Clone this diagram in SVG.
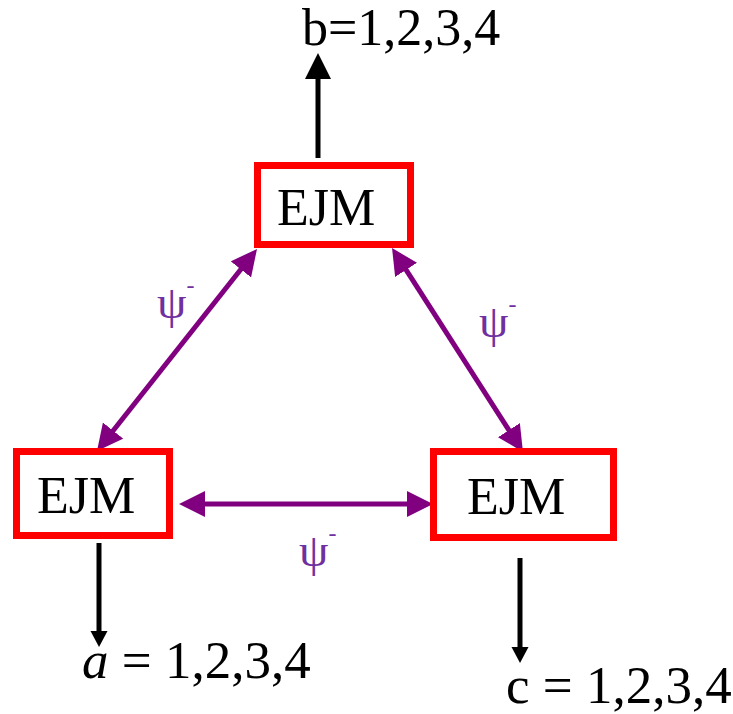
<svg xmlns="http://www.w3.org/2000/svg" width="733" height="714" viewBox="0 0 733 714">
  <style>
    .box { fill: #ffffff; stroke: #ff0000; stroke-width: 7; }
    .lbl { fill: #000000; font-family: "Liberation Serif", "Times New Roman", serif; }
    .psi { fill: #7030a0; font-size: 47px; font-family: "Liberation Serif", "Times New Roman", serif; }
    .ent { fill: none; stroke: #800080; stroke-width: 5; }
    .out { fill: none; stroke: #000000; stroke-width: 5; }
  </style>
  <defs>
    <marker id="ph" markerUnits="userSpaceOnUse" markerWidth="30" markerHeight="30" refX="2" refY="13" orient="auto-start-reverse">
      <path d="M0,0 L26,13 L0,26 z" fill="#800080"/>
    </marker>
    <marker id="bhUp" markerUnits="userSpaceOnUse" markerWidth="30" markerHeight="30" refX="2" refY="13" orient="auto">
      <path d="M0,0 L26,13 L0,26 z" fill="#000000"/>
    </marker>
    <marker id="bhDown" markerUnits="userSpaceOnUse" markerWidth="20" markerHeight="20" refX="2" refY="8.5" orient="auto">
      <path d="M0,0 L16,8.5 L0,17 z" fill="#000000"/>
    </marker>
  </defs>

  <g id="connectors">
    <line class="out" x1="318" y1="158" x2="318" y2="77" marker-end="url(#bhUp)"/>
    <line class="out" x1="99" y1="543" x2="99" y2="633" marker-end="url(#bhDown)"/>
    <line class="out" x1="520" y1="558" x2="520" y2="649" marker-end="url(#bhDown)"/>
    <line class="ent" x1="242.1" y1="267.8" x2="111.9" y2="432.2" marker-start="url(#ph)" marker-end="url(#ph)"/>
    <line class="ent" x1="405" y1="268.2" x2="510" y2="431.8" marker-start="url(#ph)" marker-end="url(#ph)"/>
    <line class="ent" x1="203" y1="504" x2="409" y2="504" marker-start="url(#ph)" marker-end="url(#ph)"/>
    <text class="psi" x="157" y="318">ψ<tspan font-size="24" dy="-25">-</tspan></text>
    <text class="psi" x="479" y="337">ψ<tspan font-size="24" dy="-25">-</tspan></text>
    <text class="psi" x="299" y="566">ψ<tspan font-size="24" dy="-25">-</tspan></text>
  </g>

  <g id="node-top">
    <rect class="box" x="257.5" y="165.5" width="153" height="79"/>
    <text class="lbl" x="277" y="225" font-size="52">EJM</text>
  </g>
  <g id="node-left">
    <rect class="box" x="16.5" y="451.5" width="153" height="84"/>
    <text class="lbl" x="37" y="513" font-size="52">EJM</text>
  </g>
  <g id="node-right">
    <rect class="box" x="433.5" y="451.5" width="180" height="86"/>
    <text class="lbl" x="467" y="514" font-size="52">EJM</text>
  </g>

  <g id="output-b">
    <text class="lbl" x="302" y="45" font-size="52">b=1,2,3,4</text>
  </g>
  <g id="output-a">
    <text class="lbl" x="82" y="678" font-size="53"><tspan font-style="italic">a</tspan> = 1,2,3,4</text>
  </g>
  <g id="output-c">
    <text class="lbl" x="506" y="703" font-size="53">c = 1,2,3,4</text>
  </g>
</svg>
